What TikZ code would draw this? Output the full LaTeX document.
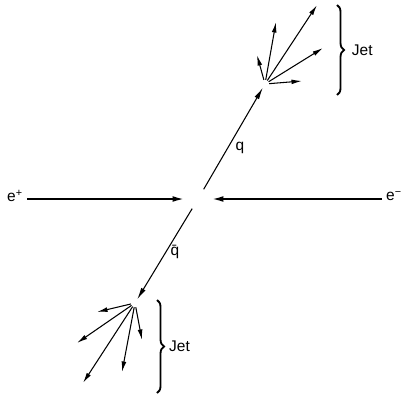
\documentclass[tikz,border=0pt]{standalone}
\usepackage{fontspec}
\setmainfont{Liberation Sans}
\usetikzlibrary{arrows.meta,positioning,decorations.pathreplacing}

\begin{document}
\begin{tikzpicture}[x=0.025cm, y=-0.025cm, every node/.style={font=\fontsize{11}{13}\selectfont, inner sep=1pt}]
\tikzset{beam/.style={line width=1.5pt, -{Latex[length=9pt,width=4pt]}}}
\tikzset{quark/.style={line width=0.75pt, -{Latex[length=8.5pt,width=3.6pt]}}}
\tikzset{trk/.style={line width=0.75pt, shorten <=3pt, -{Latex[length=7.5pt,width=3.4pt]}}}
\tikzset{jetbrace/.style={line width=1.3pt, decorate, decoration={brace, amplitude=5pt}}}
\useasboundingbox (0,0) rectangle (405,394);
\coordinate (ip) at (198,199);
\node (ep) at (15,196) {e\textsuperscript{+}};
\node (em) at (394,196) {e\textsuperscript{−}};
\coordinate (jq) at (265,84);
\coordinate (jb) at (135,303);
\draw[beam, shorten <=2pt, shorten >=9pt] (ep.east |- ip) -- (ip);
\draw[beam, shorten <=2pt, shorten >=9pt] (em.west |- ip) -- (ip);
\draw[quark, shorten <=8pt, shorten >=3pt] (ip) -- (jq);
\draw[quark, shorten <=8pt, shorten >=3pt] (ip) -- (jb);
\node at (240,148) {q};
\node at (175,252) {\=q};
% upper jet
\coordinate (q1) at (257,55);
\coordinate (q2) at (276,22);
\coordinate (q3) at (317,5);
\coordinate (q4) at (323,48);
\coordinate (q5) at (302,81);
\foreach \t in {q1,q2,q3,q4,q5} \draw[trk] (jq) -- (\t);
\draw[jetbrace] (337,5) -- node[right=9pt] (jetq) {Jet} (337,95);
% lower jet
\coordinate (b1) at (97,312);
\coordinate (b2) at (77,343);
\coordinate (b3) at (83,383);
\coordinate (b4) at (122,372);
\coordinate (b5) at (142,340);
\foreach \t in {b1,b2,b3,b4,b5} \draw[trk] (jb) -- (\t);
\draw[jetbrace] (157,300) -- node[right=7pt] (jetb) {Jet} (157,393);
\end{tikzpicture}
\end{document}
